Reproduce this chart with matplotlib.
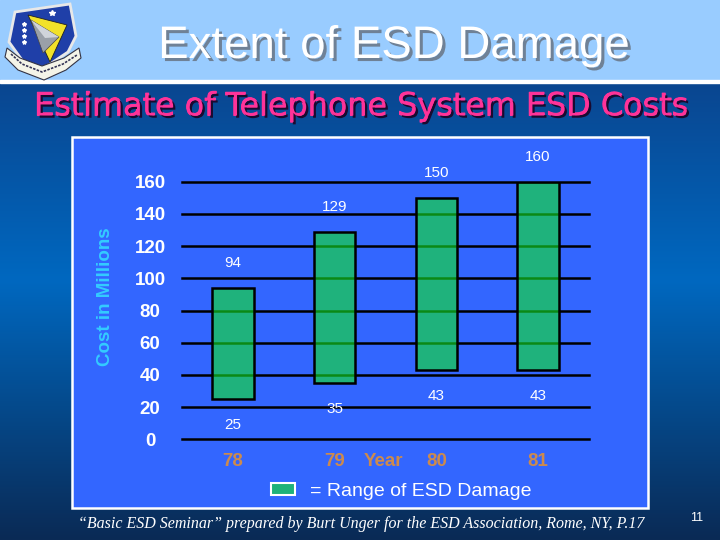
import numpy as np
import matplotlib
matplotlib.use('Agg')
import matplotlib.pyplot as plt
from matplotlib.patches import Rectangle, Polygon
import matplotlib.patheffects as pe

# data
years = ['78', '79', '80', '81']
low = [25, 35, 43, 43]
high = [94, 129, 150, 160]
yticks = [0, 20, 40, 60, 80, 100, 120, 140, 160]

fig = plt.figure(figsize=(7.2, 5.4), dpi=100)

# background layer, in pixel coordinates
bg = fig.add_axes([0, 0, 1, 1])
bg.axis('off')

# dark blue gradient below the header
stops_y = [83, 280, 540]
cols = np.array([[10, 70, 144], [0, 104, 192], [10, 42, 85]]) / 255.
yy = np.linspace(83, 540, 300)
grad = np.stack([np.interp(yy, stops_y, cols[:, i]) for i in range(3)], axis=-1)[:, None, :]
bg.imshow(grad, extent=(0, 720, 540, 83), aspect='auto', zorder=0)

bg.add_patch(Rectangle((0, 0), 720, 80, color='#99ccff', zorder=1))
bg.add_patch(Rectangle((0, 80), 720, 3, color='white', zorder=1))

# chart panel
bg.add_patch(Rectangle((72, 137), 576, 371, fc='#3366ff', ec='white', lw=1.8, zorder=1))

# rough shield logo
bg.add_patch(Polygon([(15, 12), (70, 4), (76, 36), (68, 52), (50, 64), (40, 70), (22, 60), (9, 42)],
                     fc='#1f3fa8', ec='#e8e8e8', lw=2.0, zorder=2))
bg.add_patch(Polygon([(28, 15), (67, 25), (50, 62)], fc='#f2e22a', ec='#222222', lw=0.6, zorder=3))
bg.add_patch(Polygon([(31, 20), (59, 37), (43, 53)], fc='#9aa0a8', ec='#444444', lw=0.5, zorder=4))
bg.add_patch(Polygon([(31, 20), (59, 37), (45, 38)], fc='#d0d4da', ec='none', zorder=4))
for sy in [24, 30, 36, 42]:
    bg.plot(24, sy, marker='*', color='white', ms=3, zorder=5)
bg.plot(52, 13, marker='*', color='white', ms=4, zorder=5)
bg.add_patch(Polygon([(7, 48), (20, 58), (42, 66), (64, 58), (79, 48), (81, 58),
                      (66, 70), (44, 80), (18, 70), (5, 57)],
                     fc='#f4f4e8', ec='#333344', lw=0.8, zorder=5))
bg.plot([11, 22, 42, 63, 77], [54, 64, 72, 64, 55], color='#333355', lw=1.2, ls=(0, (1.5, 0.8)), zorder=6)

bg.set_xlim(0, 720)
bg.set_ylim(540, 0)


def fit_text(t, width):
    r = fig.canvas.get_renderer()
    w = t.get_window_extent(r).width
    t.set_fontsize(t.get_fontsize() * width / w)


title = bg.text(394, 46, 'Extent of ESD Damage', ha='center', va='center',
                fontsize=33, color='white', family='Liberation Sans', zorder=6,
                path_effects=[pe.withSimplePatchShadow(offset=(2.2, -2.2),
                                                       shadow_rgbFace='#6f8196', alpha=1)])
fit_text(title, 472)

sub = bg.text(362, 107, 'Estimate of Telephone System ESD Costs', ha='center', va='center',
              fontsize=24, color='#ff3399', family='DejaVu Sans', zorder=6,
              path_effects=[pe.withStroke(linewidth=0.8, foreground='#ff3399'),
                            pe.withSimplePatchShadow(offset=(1.6, -1.6),
                                                     shadow_rgbFace='#1a0a30', alpha=1)])
fit_text(sub, 655)

foot = bg.text(361, 524, '\u201cBasic ESD Seminar\u201d prepared by Burt Unger for the ESD Association, Rome, NY, P.17',
               ha='center', va='center', fontsize=12, color='white', style='italic',
               family='Liberation Serif', zorder=6)
fit_text(foot, 567)

bg.text(697, 518, '11', ha='center', va='center', fontsize=9, color='white',
        family='Liberation Sans', zorder=6)

bg.text(106, 297, 'Cost in Millions', rotation=90, ha='center', va='center',
        fontsize=13.5, fontweight='bold', color='#33ccff', family='Liberation Sans', zorder=6)

bg.text(383, 461, 'Year', ha='center', va='center', fontsize=13.5, fontweight='bold',
        color='#cc8a4e', family='Liberation Sans', zorder=6)

# legend
bg.add_patch(Rectangle((271, 483), 24, 12, fc='#1fb27a', ec='white', lw=1.5, zorder=6))
bg.text(310, 491, '= Range of ESD Damage', ha='left', va='center', fontsize=14,
        color='white', family='Liberation Sans', zorder=6)

# the chart itself
ax = fig.add_axes([182 / 720, (540 - 439.3) / 540, 407 / 720, 257.6 / 540])
ax.patch.set_alpha(0)
x = np.arange(len(years))
span = np.array(high) - np.array(low)
for v in yticks:
    ax.axhline(v, color='black', lw=1.8, zorder=1, clip_on=False)
ax.bar(x, span, bottom=low, width=0.41, color=(19 / 255, 229 / 255, 37 / 255, 0.6),
       edgecolor='black', linewidth=1.8, zorder=3)

for xi, lo, hi in zip(x, low, high):
    ax.annotate(str(hi), (xi, hi), xytext=(0, 18), textcoords='offset points',
                ha='center', va='center', fontsize=11, color='white',
                family='Liberation Sans', annotation_clip=False)
    ax.annotate(str(lo), (xi, lo), xytext=(0, -18.5), textcoords='offset points',
                ha='center', va='center', fontsize=11, color='white',
                family='Liberation Sans', annotation_clip=False)

ax.set_xlim(-0.5, 3.5)
ax.set_ylim(0, 160)
for s in ax.spines.values():
    s.set_visible(False)

ax.set_yticks(yticks)
ax.set_xticks(x, years)
ax.tick_params(axis='y', length=0, pad=23, labelcolor='white', labelsize=13.5)
ax.tick_params(axis='x', length=0, pad=16, labelcolor='#cc8a4e', labelsize=13.5)
for lab in ax.get_yticklabels():
    lab.set_ha('center')
    lab.set_fontweight('bold')
    lab.set_family('Liberation Sans')
for lab in ax.get_xticklabels():
    lab.set_va('center')
    lab.set_fontweight('bold')
    lab.set_family('Liberation Sans')

fig.savefig('out.png', dpi=100)
